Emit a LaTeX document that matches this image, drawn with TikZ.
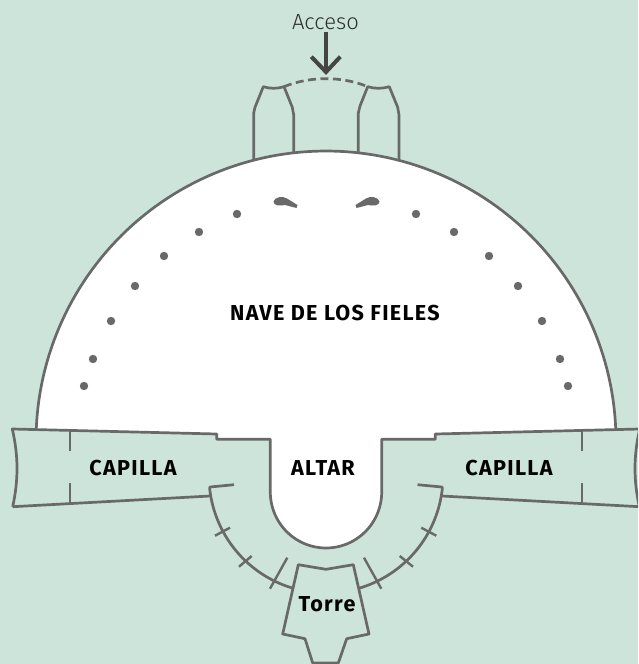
\documentclass[tikz,border=0pt]{standalone}
\usepackage{fontspec}
\setmainfont{Fira Sans}
\newfontfamily\lightf{Fira Sans Light}
\newfontfamily\boldf[LetterSpace=6]{Fira Sans Bold}
\definecolor{bgc}{HTML}{CCE4DA}
\definecolor{wall}{HTML}{696969}
\definecolor{arrowc}{HTML}{454545}
\definecolor{textc}{HTML}{2E2E2E}
\tikzset{
  wallline/.style={draw=wall,line width=2.7pt,line join=round},
  thinwall/.style={draw=wall,line width=2.4pt},
  label/.style={font=\boldf\fontsize{21.6}{21.6}\selectfont,text=black,inner sep=0pt},
  dotc/.style={fill=wall,draw=none}
}
\begin{document}
\begin{tikzpicture}[x=1pt,y=-1pt]
\useasboundingbox (0,0) rectangle (638,664);
\fill[bgc] (0,0) rectangle (638,664);
\clip (0,0) rectangle (638,664);
% nave
\path[fill=white] (36,429) -- plot[domain=182.4:357.6,samples=120] ({326+290*cos(\x)},{441+290*sin(\x)}) -- (616,429)
  -- (435.3,434) -- (435.3,439.3) -- (381.7,439.3) -- (381.7,492)
  -- plot[domain=0:180,samples=60] ({326+55.7*cos(\x)},{492+56*sin(\x)})
  -- (270.3,439.3) -- (216.7,439.3) -- (216.7,434) -- cycle;
\draw[wallline] plot[domain=182.4:357.6,samples=120] ({326+290*cos(\x)},{441+290*sin(\x)});
% left chapel and altar outline
\draw[wallline] (12.7,506.7) .. controls (18.5,480) and (18.5,456) .. (12.3,429) -- (216.7,434) -- (216.7,439.3) -- (270.3,439.3) -- (270.3,492)
  -- plot[domain=180:0,samples=60] ({326+55.7*cos(\x)},{492+56*sin(\x)})
  -- (381.7,439.3) -- (435.3,439.3) -- (435.3,434) -- (639.7,429) .. controls (633.5,456) and (633.5,480) .. (639.3,506.7) -- (442,496);
\draw[wallline] (12.7,506.7) -- (210,496);
\draw[thinwall] (70,431) -- (70,451) (70,483) -- (70,504);
\draw[thinwall] (582,431) -- (582,451) (582,483) -- (582,504);
% ambulatory
\draw[wallline] (234,484.7) -- (210,487) -- plot[domain=174:106.5,samples=40] ({326+117*cos(\x)},{476+117*sin(\x)});
\draw[wallline] (417.5,484.7) -- (442,487) -- plot[domain=6:73.5,samples=40] ({326+117*cos(\x)},{476+117*sin(\x)});
\draw[thinwall] (215,535.7) -- (230,527.7) (239,566.7) -- (251.7,556) (270,588.7) -- (287.3,557.7);
\draw[thinwall] (436.3,535.7) -- (421.3,527.7) (413,566.7) -- (399.7,556) (381.3,588.7) -- (364,557.7);
% tower
\draw[wallline] (298.3,564.7) -- (326,569.3) -- (353.3,564.7) -- (369,634) -- (346.7,638.7) -- (338.3,663) -- (312.7,663) -- (305,638.7) -- (282.7,634) -- cycle;
% entrance towers
\draw[wallline] (253.7,159) -- (253.7,113) -- (255,107.3) -- (263.3,86.7) .. controls (270,88.8) and (277,88.8) .. (284,86.7) -- (292.3,107.3) -- (293.7,115) -- (293.7,152.7);
\draw[wallline] (358.3,152.7) -- (358.3,113) -- (360,106) -- (367.7,86.7) .. controls (375,88.8) and (382,88.8) .. (389.3,86.7) -- (397.7,107.3) -- (399,115) -- (399,159);
\draw[wall,line width=2.7pt,dash pattern=on 8pt off 4.5pt] (284,86.7) .. controls (310,76) and (342,76) .. (367.7,86.7);
% arrow
\coordinate (arrowtop) at (326,32);
\coordinate (arrowtip) at (326,72);
\draw[arrowc,line width=4pt] (arrowtop) -- (arrowtip);
\draw[arrowc,line width=4pt,line join=miter] (311.3,56.7) -- (326,72) -- (340.3,56.7);
% pillars
\foreach \p in {(84,386),(93,359),(111,321),(135,286),(164,256),(199,232),(237,214),(568,386),(560,359),(542,321),(518,286),(489,256),(454,232),(416,214)}
  \fill[dotc] \p circle (4.2);
\fill[wall] (273.5,201.5) .. controls (275,196.5) and (283,196) .. (287,198.5) -- (297.5,205) -- (296.5,208) -- (285,205) .. controls (280,206) and (273.5,206) .. (273.5,201.5) -- cycle;
\fill[wall] (379.5,201.5) .. controls (378,196.5) and (370,196) .. (366,198.5) -- (355.5,205) -- (356.5,208) -- (368,205) .. controls (373,206) and (379.5,206) .. (379.5,201.5) -- cycle;
% labels
\node[font=\lightf\fontsize{22}{22}\selectfont,text=textc,inner sep=0pt] (acceso) at (325.5,22) {Acceso};
\node[label] (nave) at (335,313) {NAVE DE LOS FIELES};
\node[label] (cap1) at (133,468) {CAPILLA};
\node[label] (altar) at (323,468) {ALTAR};
\node[label] (cap2) at (509,468) {CAPILLA};
\node[label] (torre) at (327,604) {Torre};
\end{tikzpicture}
\end{document}
